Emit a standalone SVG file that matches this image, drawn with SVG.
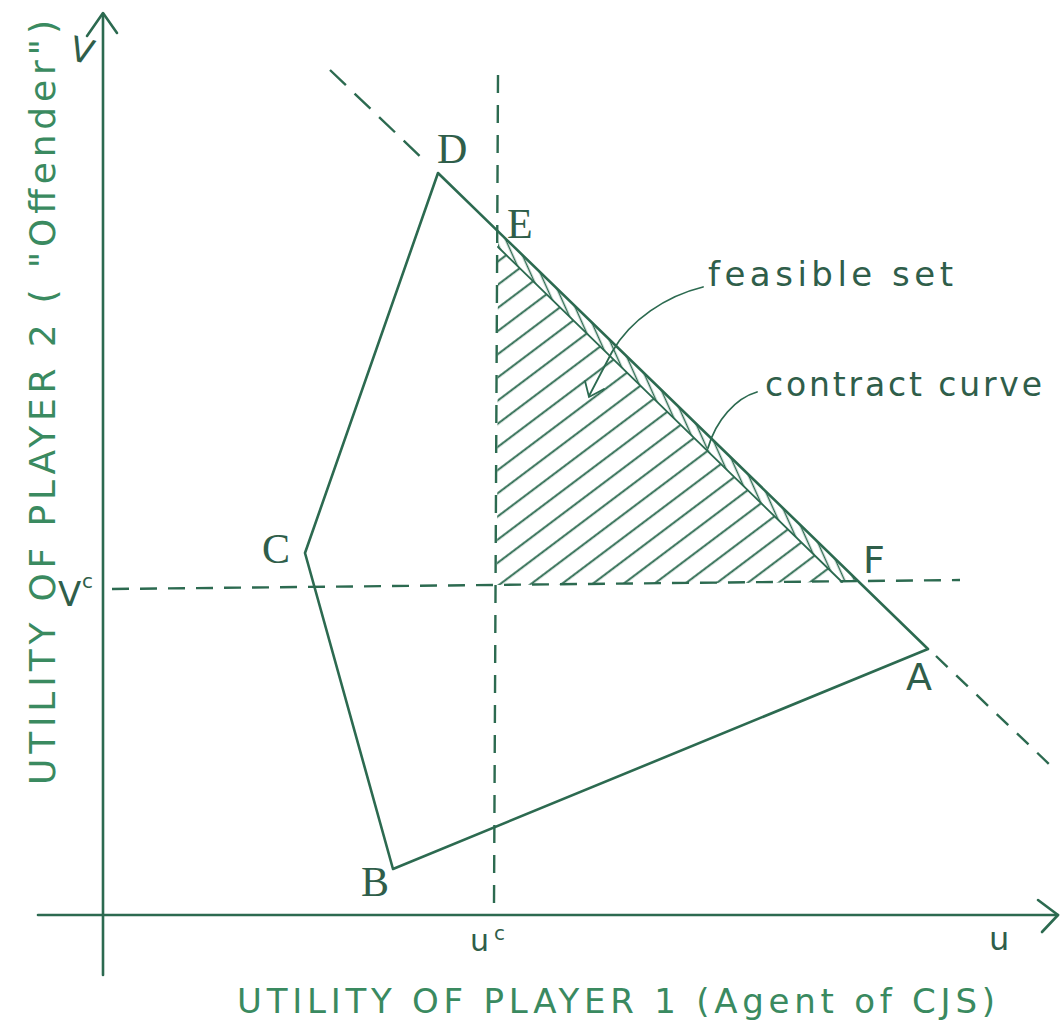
<svg xmlns="http://www.w3.org/2000/svg" width="1062" height="1024" viewBox="0 0 1062 1024">
<style>
.ln{fill:none;stroke:#2c6a50;stroke-width:2.6;stroke-linecap:round;stroke-linejoin:round}
.ds{fill:none;stroke:#2c6a50;stroke-width:2.4;stroke-dasharray:17 11}
.th{fill:none;stroke:#2c6a50;stroke-width:1.8;stroke-linecap:round}
.pt{font-family:"Liberation Serif",serif;font-size:42px;fill:#2f5e4a}
.ps{font-family:"DejaVu Sans",sans-serif;font-size:38px;fill:#2f5e4a}
.ax{font-family:"DejaVu Sans",sans-serif;fill:#3a8a60}
.an{font-family:"DejaVu Sans",sans-serif;font-size:34px;fill:#2f5e4a}
</style>
<defs>
<pattern id="hatch" patternUnits="userSpaceOnUse" width="60" height="18.5" patternTransform="rotate(-37)">
<line x1="0" y1="9" x2="60" y2="9" stroke="#2c6a50" stroke-width="1.8"/>
</pattern>
<pattern id="strip" patternUnits="userSpaceOnUse" width="60" height="9" patternTransform="rotate(66)">
<line x1="0" y1="4.5" x2="60" y2="4.5" stroke="#2c6a50" stroke-width="1.6"/>
</pattern>
</defs>
<rect width="1062" height="1024" fill="#ffffff"/>

<g id="axes">
<line class="ln" x1="103" y1="975" x2="103" y2="14"/>
<polyline class="ln" points="87,36 103,13 117,33"/>
<line class="ln" x1="38" y1="915" x2="1058" y2="915"/>
<polyline class="ln" points="1038,900 1058,915 1042,932"/>
</g>

<g id="hatching">
<polygon points="498,247 842,582 497,585" fill="url(#hatch)"/>
<polygon points="498,232 857,581 842,582 498,247" fill="url(#strip)"/>
<line class="th" x1="498" y1="247" x2="842" y2="582"/>
</g>

<g id="connectors">
<polygon class="ln" points="438,173 928,649 393,869 305,553"/>
<line class="ds" x1="330" y1="70" x2="425" y2="161" style="stroke-dasharray:22 12"/>
<line class="ds" x1="936" y1="656" x2="1050" y2="765" style="stroke-dasharray:16 12"/>
<line class="ds" x1="498" y1="75" x2="494" y2="905" style="stroke-dasharray:18 12"/>
<line class="ds" x1="112" y1="589" x2="960" y2="580"/>
<path class="th" d="M703,287 C666,296 630,320 612,352 L589,396"/>
<polyline class="th" points="585,381 589,397 604,389"/>
<path class="th" d="M757,392 C736,398 716,420 708,448"/>
</g>

<g id="node-D"><text class="pt" x="437" y="163">D</text></g>
<g id="node-E"><text class="pt" x="507" y="238">E</text></g>
<g id="node-F"><text class="ps" x="863" y="573">F</text></g>
<g id="node-A"><text class="ps" x="906" y="690">A</text></g>
<g id="node-B"><text class="pt" x="361" y="896">B</text></g>
<g id="node-C"><text class="pt" x="262" y="563">C</text></g>

<g id="label-V"><text class="an" x="0" y="0" transform="translate(79,62) rotate(15)" text-anchor="middle">V</text></g>
<g id="label-Vc"><text class="an" x="58" y="606">V</text><text class="an" x="82" y="588" style="font-size:20px">c</text></g>
<g id="label-uc"><text class="an" x="470" y="951" style="font-size:30px">u</text><text class="an" x="494" y="940" style="font-size:20px">c</text></g>
<g id="label-u"><text class="an" x="989" y="950" style="font-size:32px">u</text></g>

<g id="label-feasible"><text class="an" x="708" y="286" style="font-size:34px" textLength="245" lengthAdjust="spacing">feasible set</text></g>
<g id="label-contract"><text class="an" x="765" y="396" style="font-size:33px" textLength="277" lengthAdjust="spacing">contract curve</text></g>

<g id="axis-title-x"><text class="ax" x="237" y="1013" style="font-size:34px" textLength="758" lengthAdjust="spacing">UTILITY OF PLAYER 1 (Agent of CJS)</text></g>
<g id="axis-title-y"><text class="ax" x="0" y="0" transform="translate(55,785) rotate(-90)" style="font-size:36px" textLength="765" lengthAdjust="spacing">UTILITY OF PLAYER 2 ( "Offender")</text></g>
</svg>
